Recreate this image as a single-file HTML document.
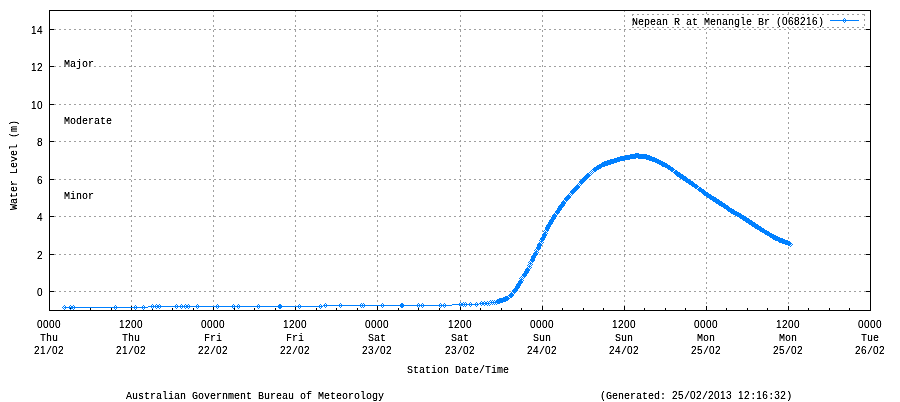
<!DOCTYPE html>
<html><head><meta charset="utf-8"><style>
html,body{margin:0;padding:0;background:#fff;}
body{width:900px;height:402px;position:relative;overflow:hidden;}
.tx{position:absolute;left:0;top:0;width:900px;height:402px;filter:url(#crisp);}
.t{position:absolute;font-family:"Liberation Mono",monospace;font-size:10px;line-height:12px;white-space:pre;color:#000;transform-origin:0 0;transform:scaleX(1.0000);}
.d{font-family:"Liberation Sans",sans-serif;font-size:10px;letter-spacing:0.4385px;line-height:0;}
</style></head><body>
<svg width="900" height="402" viewBox="0 0 900 402" shape-rendering="crispEdges" style="position:absolute;left:0;top:0"><path fill="#a0a0a0" d="M49 291h2v1h-2zM54 291h2v1h-2zM59 291h2v1h-2zM64 291h2v1h-2zM69 291h2v1h-2zM74 291h2v1h-2zM79 291h2v1h-2zM84 291h2v1h-2zM89 291h2v1h-2zM94 291h2v1h-2zM99 291h2v1h-2zM104 291h2v1h-2zM109 291h2v1h-2zM114 291h2v1h-2zM119 291h2v1h-2zM124 291h2v1h-2zM129 291h2v1h-2zM134 291h2v1h-2zM139 291h2v1h-2zM144 291h2v1h-2zM149 291h2v1h-2zM154 291h2v1h-2zM159 291h2v1h-2zM164 291h2v1h-2zM169 291h2v1h-2zM174 291h2v1h-2zM179 291h2v1h-2zM184 291h2v1h-2zM189 291h2v1h-2zM194 291h2v1h-2zM199 291h2v1h-2zM204 291h2v1h-2zM209 291h2v1h-2zM214 291h2v1h-2zM219 291h2v1h-2zM224 291h2v1h-2zM229 291h2v1h-2zM234 291h2v1h-2zM239 291h2v1h-2zM244 291h2v1h-2zM249 291h2v1h-2zM254 291h2v1h-2zM259 291h2v1h-2zM264 291h2v1h-2zM269 291h2v1h-2zM274 291h2v1h-2zM279 291h2v1h-2zM284 291h2v1h-2zM289 291h2v1h-2zM294 291h2v1h-2zM299 291h2v1h-2zM304 291h2v1h-2zM309 291h2v1h-2zM314 291h2v1h-2zM319 291h2v1h-2zM324 291h2v1h-2zM329 291h2v1h-2zM334 291h2v1h-2zM339 291h2v1h-2zM344 291h2v1h-2zM349 291h2v1h-2zM354 291h2v1h-2zM359 291h2v1h-2zM364 291h2v1h-2zM369 291h2v1h-2zM374 291h2v1h-2zM379 291h2v1h-2zM384 291h2v1h-2zM389 291h2v1h-2zM394 291h2v1h-2zM399 291h2v1h-2zM404 291h2v1h-2zM409 291h2v1h-2zM414 291h2v1h-2zM419 291h2v1h-2zM424 291h2v1h-2zM429 291h2v1h-2zM434 291h2v1h-2zM439 291h2v1h-2zM444 291h2v1h-2zM449 291h2v1h-2zM454 291h2v1h-2zM459 291h2v1h-2zM464 291h2v1h-2zM469 291h2v1h-2zM474 291h2v1h-2zM479 291h2v1h-2zM484 291h2v1h-2zM489 291h2v1h-2zM494 291h2v1h-2zM499 291h2v1h-2zM504 291h2v1h-2zM509 291h2v1h-2zM514 291h2v1h-2zM519 291h2v1h-2zM524 291h2v1h-2zM529 291h2v1h-2zM534 291h2v1h-2zM539 291h2v1h-2zM544 291h2v1h-2zM549 291h2v1h-2zM554 291h2v1h-2zM559 291h2v1h-2zM564 291h2v1h-2zM569 291h2v1h-2zM574 291h2v1h-2zM579 291h2v1h-2zM584 291h2v1h-2zM589 291h2v1h-2zM594 291h2v1h-2zM599 291h2v1h-2zM604 291h2v1h-2zM609 291h2v1h-2zM614 291h2v1h-2zM619 291h2v1h-2zM624 291h2v1h-2zM629 291h2v1h-2zM634 291h2v1h-2zM639 291h2v1h-2zM644 291h2v1h-2zM649 291h2v1h-2zM654 291h2v1h-2zM659 291h2v1h-2zM664 291h2v1h-2zM669 291h2v1h-2zM674 291h2v1h-2zM679 291h2v1h-2zM684 291h2v1h-2zM689 291h2v1h-2zM694 291h2v1h-2zM699 291h2v1h-2zM704 291h2v1h-2zM709 291h2v1h-2zM714 291h2v1h-2zM719 291h2v1h-2zM724 291h2v1h-2zM729 291h2v1h-2zM734 291h2v1h-2zM739 291h2v1h-2zM744 291h2v1h-2zM749 291h2v1h-2zM754 291h2v1h-2zM759 291h2v1h-2zM764 291h2v1h-2zM769 291h2v1h-2zM774 291h2v1h-2zM779 291h2v1h-2zM784 291h2v1h-2zM789 291h2v1h-2zM794 291h2v1h-2zM799 291h2v1h-2zM804 291h2v1h-2zM809 291h2v1h-2zM814 291h2v1h-2zM819 291h2v1h-2zM824 291h2v1h-2zM829 291h2v1h-2zM834 291h2v1h-2zM839 291h2v1h-2zM844 291h2v1h-2zM849 291h2v1h-2zM854 291h2v1h-2zM859 291h2v1h-2zM864 291h2v1h-2zM869 291h2v1h-2zM49 254h2v1h-2zM54 254h2v1h-2zM59 254h2v1h-2zM64 254h2v1h-2zM69 254h2v1h-2zM74 254h2v1h-2zM79 254h2v1h-2zM84 254h2v1h-2zM89 254h2v1h-2zM94 254h2v1h-2zM99 254h2v1h-2zM104 254h2v1h-2zM109 254h2v1h-2zM114 254h2v1h-2zM119 254h2v1h-2zM124 254h2v1h-2zM129 254h2v1h-2zM134 254h2v1h-2zM139 254h2v1h-2zM144 254h2v1h-2zM149 254h2v1h-2zM154 254h2v1h-2zM159 254h2v1h-2zM164 254h2v1h-2zM169 254h2v1h-2zM174 254h2v1h-2zM179 254h2v1h-2zM184 254h2v1h-2zM189 254h2v1h-2zM194 254h2v1h-2zM199 254h2v1h-2zM204 254h2v1h-2zM209 254h2v1h-2zM214 254h2v1h-2zM219 254h2v1h-2zM224 254h2v1h-2zM229 254h2v1h-2zM234 254h2v1h-2zM239 254h2v1h-2zM244 254h2v1h-2zM249 254h2v1h-2zM254 254h2v1h-2zM259 254h2v1h-2zM264 254h2v1h-2zM269 254h2v1h-2zM274 254h2v1h-2zM279 254h2v1h-2zM284 254h2v1h-2zM289 254h2v1h-2zM294 254h2v1h-2zM299 254h2v1h-2zM304 254h2v1h-2zM309 254h2v1h-2zM314 254h2v1h-2zM319 254h2v1h-2zM324 254h2v1h-2zM329 254h2v1h-2zM334 254h2v1h-2zM339 254h2v1h-2zM344 254h2v1h-2zM349 254h2v1h-2zM354 254h2v1h-2zM359 254h2v1h-2zM364 254h2v1h-2zM369 254h2v1h-2zM374 254h2v1h-2zM379 254h2v1h-2zM384 254h2v1h-2zM389 254h2v1h-2zM394 254h2v1h-2zM399 254h2v1h-2zM404 254h2v1h-2zM409 254h2v1h-2zM414 254h2v1h-2zM419 254h2v1h-2zM424 254h2v1h-2zM429 254h2v1h-2zM434 254h2v1h-2zM439 254h2v1h-2zM444 254h2v1h-2zM449 254h2v1h-2zM454 254h2v1h-2zM459 254h2v1h-2zM464 254h2v1h-2zM469 254h2v1h-2zM474 254h2v1h-2zM479 254h2v1h-2zM484 254h2v1h-2zM489 254h2v1h-2zM494 254h2v1h-2zM499 254h2v1h-2zM504 254h2v1h-2zM509 254h2v1h-2zM514 254h2v1h-2zM519 254h2v1h-2zM524 254h2v1h-2zM529 254h2v1h-2zM534 254h2v1h-2zM539 254h2v1h-2zM544 254h2v1h-2zM549 254h2v1h-2zM554 254h2v1h-2zM559 254h2v1h-2zM564 254h2v1h-2zM569 254h2v1h-2zM574 254h2v1h-2zM579 254h2v1h-2zM584 254h2v1h-2zM589 254h2v1h-2zM594 254h2v1h-2zM599 254h2v1h-2zM604 254h2v1h-2zM609 254h2v1h-2zM614 254h2v1h-2zM619 254h2v1h-2zM624 254h2v1h-2zM629 254h2v1h-2zM634 254h2v1h-2zM639 254h2v1h-2zM644 254h2v1h-2zM649 254h2v1h-2zM654 254h2v1h-2zM659 254h2v1h-2zM664 254h2v1h-2zM669 254h2v1h-2zM674 254h2v1h-2zM679 254h2v1h-2zM684 254h2v1h-2zM689 254h2v1h-2zM694 254h2v1h-2zM699 254h2v1h-2zM704 254h2v1h-2zM709 254h2v1h-2zM714 254h2v1h-2zM719 254h2v1h-2zM724 254h2v1h-2zM729 254h2v1h-2zM734 254h2v1h-2zM739 254h2v1h-2zM744 254h2v1h-2zM749 254h2v1h-2zM754 254h2v1h-2zM759 254h2v1h-2zM764 254h2v1h-2zM769 254h2v1h-2zM774 254h2v1h-2zM779 254h2v1h-2zM784 254h2v1h-2zM789 254h2v1h-2zM794 254h2v1h-2zM799 254h2v1h-2zM804 254h2v1h-2zM809 254h2v1h-2zM814 254h2v1h-2zM819 254h2v1h-2zM824 254h2v1h-2zM829 254h2v1h-2zM834 254h2v1h-2zM839 254h2v1h-2zM844 254h2v1h-2zM849 254h2v1h-2zM854 254h2v1h-2zM859 254h2v1h-2zM864 254h2v1h-2zM869 254h2v1h-2zM49 216h2v1h-2zM54 216h2v1h-2zM59 216h2v1h-2zM64 216h2v1h-2zM69 216h2v1h-2zM74 216h2v1h-2zM79 216h2v1h-2zM84 216h2v1h-2zM89 216h2v1h-2zM94 216h2v1h-2zM99 216h2v1h-2zM104 216h2v1h-2zM109 216h2v1h-2zM114 216h2v1h-2zM119 216h2v1h-2zM124 216h2v1h-2zM129 216h2v1h-2zM134 216h2v1h-2zM139 216h2v1h-2zM144 216h2v1h-2zM149 216h2v1h-2zM154 216h2v1h-2zM159 216h2v1h-2zM164 216h2v1h-2zM169 216h2v1h-2zM174 216h2v1h-2zM179 216h2v1h-2zM184 216h2v1h-2zM189 216h2v1h-2zM194 216h2v1h-2zM199 216h2v1h-2zM204 216h2v1h-2zM209 216h2v1h-2zM214 216h2v1h-2zM219 216h2v1h-2zM224 216h2v1h-2zM229 216h2v1h-2zM234 216h2v1h-2zM239 216h2v1h-2zM244 216h2v1h-2zM249 216h2v1h-2zM254 216h2v1h-2zM259 216h2v1h-2zM264 216h2v1h-2zM269 216h2v1h-2zM274 216h2v1h-2zM279 216h2v1h-2zM284 216h2v1h-2zM289 216h2v1h-2zM294 216h2v1h-2zM299 216h2v1h-2zM304 216h2v1h-2zM309 216h2v1h-2zM314 216h2v1h-2zM319 216h2v1h-2zM324 216h2v1h-2zM329 216h2v1h-2zM334 216h2v1h-2zM339 216h2v1h-2zM344 216h2v1h-2zM349 216h2v1h-2zM354 216h2v1h-2zM359 216h2v1h-2zM364 216h2v1h-2zM369 216h2v1h-2zM374 216h2v1h-2zM379 216h2v1h-2zM384 216h2v1h-2zM389 216h2v1h-2zM394 216h2v1h-2zM399 216h2v1h-2zM404 216h2v1h-2zM409 216h2v1h-2zM414 216h2v1h-2zM419 216h2v1h-2zM424 216h2v1h-2zM429 216h2v1h-2zM434 216h2v1h-2zM439 216h2v1h-2zM444 216h2v1h-2zM449 216h2v1h-2zM454 216h2v1h-2zM459 216h2v1h-2zM464 216h2v1h-2zM469 216h2v1h-2zM474 216h2v1h-2zM479 216h2v1h-2zM484 216h2v1h-2zM489 216h2v1h-2zM494 216h2v1h-2zM499 216h2v1h-2zM504 216h2v1h-2zM509 216h2v1h-2zM514 216h2v1h-2zM519 216h2v1h-2zM524 216h2v1h-2zM529 216h2v1h-2zM534 216h2v1h-2zM539 216h2v1h-2zM544 216h2v1h-2zM549 216h2v1h-2zM554 216h2v1h-2zM559 216h2v1h-2zM564 216h2v1h-2zM569 216h2v1h-2zM574 216h2v1h-2zM579 216h2v1h-2zM584 216h2v1h-2zM589 216h2v1h-2zM594 216h2v1h-2zM599 216h2v1h-2zM604 216h2v1h-2zM609 216h2v1h-2zM614 216h2v1h-2zM619 216h2v1h-2zM624 216h2v1h-2zM629 216h2v1h-2zM634 216h2v1h-2zM639 216h2v1h-2zM644 216h2v1h-2zM649 216h2v1h-2zM654 216h2v1h-2zM659 216h2v1h-2zM664 216h2v1h-2zM669 216h2v1h-2zM674 216h2v1h-2zM679 216h2v1h-2zM684 216h2v1h-2zM689 216h2v1h-2zM694 216h2v1h-2zM699 216h2v1h-2zM704 216h2v1h-2zM709 216h2v1h-2zM714 216h2v1h-2zM719 216h2v1h-2zM724 216h2v1h-2zM729 216h2v1h-2zM734 216h2v1h-2zM739 216h2v1h-2zM744 216h2v1h-2zM749 216h2v1h-2zM754 216h2v1h-2zM759 216h2v1h-2zM764 216h2v1h-2zM769 216h2v1h-2zM774 216h2v1h-2zM779 216h2v1h-2zM784 216h2v1h-2zM789 216h2v1h-2zM794 216h2v1h-2zM799 216h2v1h-2zM804 216h2v1h-2zM809 216h2v1h-2zM814 216h2v1h-2zM819 216h2v1h-2zM824 216h2v1h-2zM829 216h2v1h-2zM834 216h2v1h-2zM839 216h2v1h-2zM844 216h2v1h-2zM849 216h2v1h-2zM854 216h2v1h-2zM859 216h2v1h-2zM864 216h2v1h-2zM869 216h2v1h-2zM49 179h2v1h-2zM54 179h2v1h-2zM59 179h2v1h-2zM64 179h2v1h-2zM69 179h2v1h-2zM74 179h2v1h-2zM79 179h2v1h-2zM84 179h2v1h-2zM89 179h2v1h-2zM94 179h2v1h-2zM99 179h2v1h-2zM104 179h2v1h-2zM109 179h2v1h-2zM114 179h2v1h-2zM119 179h2v1h-2zM124 179h2v1h-2zM129 179h2v1h-2zM134 179h2v1h-2zM139 179h2v1h-2zM144 179h2v1h-2zM149 179h2v1h-2zM154 179h2v1h-2zM159 179h2v1h-2zM164 179h2v1h-2zM169 179h2v1h-2zM174 179h2v1h-2zM179 179h2v1h-2zM184 179h2v1h-2zM189 179h2v1h-2zM194 179h2v1h-2zM199 179h2v1h-2zM204 179h2v1h-2zM209 179h2v1h-2zM214 179h2v1h-2zM219 179h2v1h-2zM224 179h2v1h-2zM229 179h2v1h-2zM234 179h2v1h-2zM239 179h2v1h-2zM244 179h2v1h-2zM249 179h2v1h-2zM254 179h2v1h-2zM259 179h2v1h-2zM264 179h2v1h-2zM269 179h2v1h-2zM274 179h2v1h-2zM279 179h2v1h-2zM284 179h2v1h-2zM289 179h2v1h-2zM294 179h2v1h-2zM299 179h2v1h-2zM304 179h2v1h-2zM309 179h2v1h-2zM314 179h2v1h-2zM319 179h2v1h-2zM324 179h2v1h-2zM329 179h2v1h-2zM334 179h2v1h-2zM339 179h2v1h-2zM344 179h2v1h-2zM349 179h2v1h-2zM354 179h2v1h-2zM359 179h2v1h-2zM364 179h2v1h-2zM369 179h2v1h-2zM374 179h2v1h-2zM379 179h2v1h-2zM384 179h2v1h-2zM389 179h2v1h-2zM394 179h2v1h-2zM399 179h2v1h-2zM404 179h2v1h-2zM409 179h2v1h-2zM414 179h2v1h-2zM419 179h2v1h-2zM424 179h2v1h-2zM429 179h2v1h-2zM434 179h2v1h-2zM439 179h2v1h-2zM444 179h2v1h-2zM449 179h2v1h-2zM454 179h2v1h-2zM459 179h2v1h-2zM464 179h2v1h-2zM469 179h2v1h-2zM474 179h2v1h-2zM479 179h2v1h-2zM484 179h2v1h-2zM489 179h2v1h-2zM494 179h2v1h-2zM499 179h2v1h-2zM504 179h2v1h-2zM509 179h2v1h-2zM514 179h2v1h-2zM519 179h2v1h-2zM524 179h2v1h-2zM529 179h2v1h-2zM534 179h2v1h-2zM539 179h2v1h-2zM544 179h2v1h-2zM549 179h2v1h-2zM554 179h2v1h-2zM559 179h2v1h-2zM564 179h2v1h-2zM569 179h2v1h-2zM574 179h2v1h-2zM579 179h2v1h-2zM584 179h2v1h-2zM589 179h2v1h-2zM594 179h2v1h-2zM599 179h2v1h-2zM604 179h2v1h-2zM609 179h2v1h-2zM614 179h2v1h-2zM619 179h2v1h-2zM624 179h2v1h-2zM629 179h2v1h-2zM634 179h2v1h-2zM639 179h2v1h-2zM644 179h2v1h-2zM649 179h2v1h-2zM654 179h2v1h-2zM659 179h2v1h-2zM664 179h2v1h-2zM669 179h2v1h-2zM674 179h2v1h-2zM679 179h2v1h-2zM684 179h2v1h-2zM689 179h2v1h-2zM694 179h2v1h-2zM699 179h2v1h-2zM704 179h2v1h-2zM709 179h2v1h-2zM714 179h2v1h-2zM719 179h2v1h-2zM724 179h2v1h-2zM729 179h2v1h-2zM734 179h2v1h-2zM739 179h2v1h-2zM744 179h2v1h-2zM749 179h2v1h-2zM754 179h2v1h-2zM759 179h2v1h-2zM764 179h2v1h-2zM769 179h2v1h-2zM774 179h2v1h-2zM779 179h2v1h-2zM784 179h2v1h-2zM789 179h2v1h-2zM794 179h2v1h-2zM799 179h2v1h-2zM804 179h2v1h-2zM809 179h2v1h-2zM814 179h2v1h-2zM819 179h2v1h-2zM824 179h2v1h-2zM829 179h2v1h-2zM834 179h2v1h-2zM839 179h2v1h-2zM844 179h2v1h-2zM849 179h2v1h-2zM854 179h2v1h-2zM859 179h2v1h-2zM864 179h2v1h-2zM869 179h2v1h-2zM49 141h2v1h-2zM54 141h2v1h-2zM59 141h2v1h-2zM64 141h2v1h-2zM69 141h2v1h-2zM74 141h2v1h-2zM79 141h2v1h-2zM84 141h2v1h-2zM89 141h2v1h-2zM94 141h2v1h-2zM99 141h2v1h-2zM104 141h2v1h-2zM109 141h2v1h-2zM114 141h2v1h-2zM119 141h2v1h-2zM124 141h2v1h-2zM129 141h2v1h-2zM134 141h2v1h-2zM139 141h2v1h-2zM144 141h2v1h-2zM149 141h2v1h-2zM154 141h2v1h-2zM159 141h2v1h-2zM164 141h2v1h-2zM169 141h2v1h-2zM174 141h2v1h-2zM179 141h2v1h-2zM184 141h2v1h-2zM189 141h2v1h-2zM194 141h2v1h-2zM199 141h2v1h-2zM204 141h2v1h-2zM209 141h2v1h-2zM214 141h2v1h-2zM219 141h2v1h-2zM224 141h2v1h-2zM229 141h2v1h-2zM234 141h2v1h-2zM239 141h2v1h-2zM244 141h2v1h-2zM249 141h2v1h-2zM254 141h2v1h-2zM259 141h2v1h-2zM264 141h2v1h-2zM269 141h2v1h-2zM274 141h2v1h-2zM279 141h2v1h-2zM284 141h2v1h-2zM289 141h2v1h-2zM294 141h2v1h-2zM299 141h2v1h-2zM304 141h2v1h-2zM309 141h2v1h-2zM314 141h2v1h-2zM319 141h2v1h-2zM324 141h2v1h-2zM329 141h2v1h-2zM334 141h2v1h-2zM339 141h2v1h-2zM344 141h2v1h-2zM349 141h2v1h-2zM354 141h2v1h-2zM359 141h2v1h-2zM364 141h2v1h-2zM369 141h2v1h-2zM374 141h2v1h-2zM379 141h2v1h-2zM384 141h2v1h-2zM389 141h2v1h-2zM394 141h2v1h-2zM399 141h2v1h-2zM404 141h2v1h-2zM409 141h2v1h-2zM414 141h2v1h-2zM419 141h2v1h-2zM424 141h2v1h-2zM429 141h2v1h-2zM434 141h2v1h-2zM439 141h2v1h-2zM444 141h2v1h-2zM449 141h2v1h-2zM454 141h2v1h-2zM459 141h2v1h-2zM464 141h2v1h-2zM469 141h2v1h-2zM474 141h2v1h-2zM479 141h2v1h-2zM484 141h2v1h-2zM489 141h2v1h-2zM494 141h2v1h-2zM499 141h2v1h-2zM504 141h2v1h-2zM509 141h2v1h-2zM514 141h2v1h-2zM519 141h2v1h-2zM524 141h2v1h-2zM529 141h2v1h-2zM534 141h2v1h-2zM539 141h2v1h-2zM544 141h2v1h-2zM549 141h2v1h-2zM554 141h2v1h-2zM559 141h2v1h-2zM564 141h2v1h-2zM569 141h2v1h-2zM574 141h2v1h-2zM579 141h2v1h-2zM584 141h2v1h-2zM589 141h2v1h-2zM594 141h2v1h-2zM599 141h2v1h-2zM604 141h2v1h-2zM609 141h2v1h-2zM614 141h2v1h-2zM619 141h2v1h-2zM624 141h2v1h-2zM629 141h2v1h-2zM634 141h2v1h-2zM639 141h2v1h-2zM644 141h2v1h-2zM649 141h2v1h-2zM654 141h2v1h-2zM659 141h2v1h-2zM664 141h2v1h-2zM669 141h2v1h-2zM674 141h2v1h-2zM679 141h2v1h-2zM684 141h2v1h-2zM689 141h2v1h-2zM694 141h2v1h-2zM699 141h2v1h-2zM704 141h2v1h-2zM709 141h2v1h-2zM714 141h2v1h-2zM719 141h2v1h-2zM724 141h2v1h-2zM729 141h2v1h-2zM734 141h2v1h-2zM739 141h2v1h-2zM744 141h2v1h-2zM749 141h2v1h-2zM754 141h2v1h-2zM759 141h2v1h-2zM764 141h2v1h-2zM769 141h2v1h-2zM774 141h2v1h-2zM779 141h2v1h-2zM784 141h2v1h-2zM789 141h2v1h-2zM794 141h2v1h-2zM799 141h2v1h-2zM804 141h2v1h-2zM809 141h2v1h-2zM814 141h2v1h-2zM819 141h2v1h-2zM824 141h2v1h-2zM829 141h2v1h-2zM834 141h2v1h-2zM839 141h2v1h-2zM844 141h2v1h-2zM849 141h2v1h-2zM854 141h2v1h-2zM859 141h2v1h-2zM864 141h2v1h-2zM869 141h2v1h-2zM49 104h2v1h-2zM54 104h2v1h-2zM59 104h2v1h-2zM64 104h2v1h-2zM69 104h2v1h-2zM74 104h2v1h-2zM79 104h2v1h-2zM84 104h2v1h-2zM89 104h2v1h-2zM94 104h2v1h-2zM99 104h2v1h-2zM104 104h2v1h-2zM109 104h2v1h-2zM114 104h2v1h-2zM119 104h2v1h-2zM124 104h2v1h-2zM129 104h2v1h-2zM134 104h2v1h-2zM139 104h2v1h-2zM144 104h2v1h-2zM149 104h2v1h-2zM154 104h2v1h-2zM159 104h2v1h-2zM164 104h2v1h-2zM169 104h2v1h-2zM174 104h2v1h-2zM179 104h2v1h-2zM184 104h2v1h-2zM189 104h2v1h-2zM194 104h2v1h-2zM199 104h2v1h-2zM204 104h2v1h-2zM209 104h2v1h-2zM214 104h2v1h-2zM219 104h2v1h-2zM224 104h2v1h-2zM229 104h2v1h-2zM234 104h2v1h-2zM239 104h2v1h-2zM244 104h2v1h-2zM249 104h2v1h-2zM254 104h2v1h-2zM259 104h2v1h-2zM264 104h2v1h-2zM269 104h2v1h-2zM274 104h2v1h-2zM279 104h2v1h-2zM284 104h2v1h-2zM289 104h2v1h-2zM294 104h2v1h-2zM299 104h2v1h-2zM304 104h2v1h-2zM309 104h2v1h-2zM314 104h2v1h-2zM319 104h2v1h-2zM324 104h2v1h-2zM329 104h2v1h-2zM334 104h2v1h-2zM339 104h2v1h-2zM344 104h2v1h-2zM349 104h2v1h-2zM354 104h2v1h-2zM359 104h2v1h-2zM364 104h2v1h-2zM369 104h2v1h-2zM374 104h2v1h-2zM379 104h2v1h-2zM384 104h2v1h-2zM389 104h2v1h-2zM394 104h2v1h-2zM399 104h2v1h-2zM404 104h2v1h-2zM409 104h2v1h-2zM414 104h2v1h-2zM419 104h2v1h-2zM424 104h2v1h-2zM429 104h2v1h-2zM434 104h2v1h-2zM439 104h2v1h-2zM444 104h2v1h-2zM449 104h2v1h-2zM454 104h2v1h-2zM459 104h2v1h-2zM464 104h2v1h-2zM469 104h2v1h-2zM474 104h2v1h-2zM479 104h2v1h-2zM484 104h2v1h-2zM489 104h2v1h-2zM494 104h2v1h-2zM499 104h2v1h-2zM504 104h2v1h-2zM509 104h2v1h-2zM514 104h2v1h-2zM519 104h2v1h-2zM524 104h2v1h-2zM529 104h2v1h-2zM534 104h2v1h-2zM539 104h2v1h-2zM544 104h2v1h-2zM549 104h2v1h-2zM554 104h2v1h-2zM559 104h2v1h-2zM564 104h2v1h-2zM569 104h2v1h-2zM574 104h2v1h-2zM579 104h2v1h-2zM584 104h2v1h-2zM589 104h2v1h-2zM594 104h2v1h-2zM599 104h2v1h-2zM604 104h2v1h-2zM609 104h2v1h-2zM614 104h2v1h-2zM619 104h2v1h-2zM624 104h2v1h-2zM629 104h2v1h-2zM634 104h2v1h-2zM639 104h2v1h-2zM644 104h2v1h-2zM649 104h2v1h-2zM654 104h2v1h-2zM659 104h2v1h-2zM664 104h2v1h-2zM669 104h2v1h-2zM674 104h2v1h-2zM679 104h2v1h-2zM684 104h2v1h-2zM689 104h2v1h-2zM694 104h2v1h-2zM699 104h2v1h-2zM704 104h2v1h-2zM709 104h2v1h-2zM714 104h2v1h-2zM719 104h2v1h-2zM724 104h2v1h-2zM729 104h2v1h-2zM734 104h2v1h-2zM739 104h2v1h-2zM744 104h2v1h-2zM749 104h2v1h-2zM754 104h2v1h-2zM759 104h2v1h-2zM764 104h2v1h-2zM769 104h2v1h-2zM774 104h2v1h-2zM779 104h2v1h-2zM784 104h2v1h-2zM789 104h2v1h-2zM794 104h2v1h-2zM799 104h2v1h-2zM804 104h2v1h-2zM809 104h2v1h-2zM814 104h2v1h-2zM819 104h2v1h-2zM824 104h2v1h-2zM829 104h2v1h-2zM834 104h2v1h-2zM839 104h2v1h-2zM844 104h2v1h-2zM849 104h2v1h-2zM854 104h2v1h-2zM859 104h2v1h-2zM864 104h2v1h-2zM869 104h2v1h-2zM49 66h2v1h-2zM54 66h2v1h-2zM59 66h2v1h-2zM64 66h2v1h-2zM69 66h2v1h-2zM74 66h2v1h-2zM79 66h2v1h-2zM84 66h2v1h-2zM89 66h2v1h-2zM94 66h2v1h-2zM99 66h2v1h-2zM104 66h2v1h-2zM109 66h2v1h-2zM114 66h2v1h-2zM119 66h2v1h-2zM124 66h2v1h-2zM129 66h2v1h-2zM134 66h2v1h-2zM139 66h2v1h-2zM144 66h2v1h-2zM149 66h2v1h-2zM154 66h2v1h-2zM159 66h2v1h-2zM164 66h2v1h-2zM169 66h2v1h-2zM174 66h2v1h-2zM179 66h2v1h-2zM184 66h2v1h-2zM189 66h2v1h-2zM194 66h2v1h-2zM199 66h2v1h-2zM204 66h2v1h-2zM209 66h2v1h-2zM214 66h2v1h-2zM219 66h2v1h-2zM224 66h2v1h-2zM229 66h2v1h-2zM234 66h2v1h-2zM239 66h2v1h-2zM244 66h2v1h-2zM249 66h2v1h-2zM254 66h2v1h-2zM259 66h2v1h-2zM264 66h2v1h-2zM269 66h2v1h-2zM274 66h2v1h-2zM279 66h2v1h-2zM284 66h2v1h-2zM289 66h2v1h-2zM294 66h2v1h-2zM299 66h2v1h-2zM304 66h2v1h-2zM309 66h2v1h-2zM314 66h2v1h-2zM319 66h2v1h-2zM324 66h2v1h-2zM329 66h2v1h-2zM334 66h2v1h-2zM339 66h2v1h-2zM344 66h2v1h-2zM349 66h2v1h-2zM354 66h2v1h-2zM359 66h2v1h-2zM364 66h2v1h-2zM369 66h2v1h-2zM374 66h2v1h-2zM379 66h2v1h-2zM384 66h2v1h-2zM389 66h2v1h-2zM394 66h2v1h-2zM399 66h2v1h-2zM404 66h2v1h-2zM409 66h2v1h-2zM414 66h2v1h-2zM419 66h2v1h-2zM424 66h2v1h-2zM429 66h2v1h-2zM434 66h2v1h-2zM439 66h2v1h-2zM444 66h2v1h-2zM449 66h2v1h-2zM454 66h2v1h-2zM459 66h2v1h-2zM464 66h2v1h-2zM469 66h2v1h-2zM474 66h2v1h-2zM479 66h2v1h-2zM484 66h2v1h-2zM489 66h2v1h-2zM494 66h2v1h-2zM499 66h2v1h-2zM504 66h2v1h-2zM509 66h2v1h-2zM514 66h2v1h-2zM519 66h2v1h-2zM524 66h2v1h-2zM529 66h2v1h-2zM534 66h2v1h-2zM539 66h2v1h-2zM544 66h2v1h-2zM549 66h2v1h-2zM554 66h2v1h-2zM559 66h2v1h-2zM564 66h2v1h-2zM569 66h2v1h-2zM574 66h2v1h-2zM579 66h2v1h-2zM584 66h2v1h-2zM589 66h2v1h-2zM594 66h2v1h-2zM599 66h2v1h-2zM604 66h2v1h-2zM609 66h2v1h-2zM614 66h2v1h-2zM619 66h2v1h-2zM624 66h2v1h-2zM629 66h2v1h-2zM634 66h2v1h-2zM639 66h2v1h-2zM644 66h2v1h-2zM649 66h2v1h-2zM654 66h2v1h-2zM659 66h2v1h-2zM664 66h2v1h-2zM669 66h2v1h-2zM674 66h2v1h-2zM679 66h2v1h-2zM684 66h2v1h-2zM689 66h2v1h-2zM694 66h2v1h-2zM699 66h2v1h-2zM704 66h2v1h-2zM709 66h2v1h-2zM714 66h2v1h-2zM719 66h2v1h-2zM724 66h2v1h-2zM729 66h2v1h-2zM734 66h2v1h-2zM739 66h2v1h-2zM744 66h2v1h-2zM749 66h2v1h-2zM754 66h2v1h-2zM759 66h2v1h-2zM764 66h2v1h-2zM769 66h2v1h-2zM774 66h2v1h-2zM779 66h2v1h-2zM784 66h2v1h-2zM789 66h2v1h-2zM794 66h2v1h-2zM799 66h2v1h-2zM804 66h2v1h-2zM809 66h2v1h-2zM814 66h2v1h-2zM819 66h2v1h-2zM824 66h2v1h-2zM829 66h2v1h-2zM834 66h2v1h-2zM839 66h2v1h-2zM844 66h2v1h-2zM849 66h2v1h-2zM854 66h2v1h-2zM859 66h2v1h-2zM864 66h2v1h-2zM869 66h2v1h-2zM49 29h2v1h-2zM54 29h2v1h-2zM59 29h2v1h-2zM64 29h2v1h-2zM69 29h2v1h-2zM74 29h2v1h-2zM79 29h2v1h-2zM84 29h2v1h-2zM89 29h2v1h-2zM94 29h2v1h-2zM99 29h2v1h-2zM104 29h2v1h-2zM109 29h2v1h-2zM114 29h2v1h-2zM119 29h2v1h-2zM124 29h2v1h-2zM129 29h2v1h-2zM134 29h2v1h-2zM139 29h2v1h-2zM144 29h2v1h-2zM149 29h2v1h-2zM154 29h2v1h-2zM159 29h2v1h-2zM164 29h2v1h-2zM169 29h2v1h-2zM174 29h2v1h-2zM179 29h2v1h-2zM184 29h2v1h-2zM189 29h2v1h-2zM194 29h2v1h-2zM199 29h2v1h-2zM204 29h2v1h-2zM209 29h2v1h-2zM214 29h2v1h-2zM219 29h2v1h-2zM224 29h2v1h-2zM229 29h2v1h-2zM234 29h2v1h-2zM239 29h2v1h-2zM244 29h2v1h-2zM249 29h2v1h-2zM254 29h2v1h-2zM259 29h2v1h-2zM264 29h2v1h-2zM269 29h2v1h-2zM274 29h2v1h-2zM279 29h2v1h-2zM284 29h2v1h-2zM289 29h2v1h-2zM294 29h2v1h-2zM299 29h2v1h-2zM304 29h2v1h-2zM309 29h2v1h-2zM314 29h2v1h-2zM319 29h2v1h-2zM324 29h2v1h-2zM329 29h2v1h-2zM334 29h2v1h-2zM339 29h2v1h-2zM344 29h2v1h-2zM349 29h2v1h-2zM354 29h2v1h-2zM359 29h2v1h-2zM364 29h2v1h-2zM369 29h2v1h-2zM374 29h2v1h-2zM379 29h2v1h-2zM384 29h2v1h-2zM389 29h2v1h-2zM394 29h2v1h-2zM399 29h2v1h-2zM404 29h2v1h-2zM409 29h2v1h-2zM414 29h2v1h-2zM419 29h2v1h-2zM424 29h2v1h-2zM429 29h2v1h-2zM434 29h2v1h-2zM439 29h2v1h-2zM444 29h2v1h-2zM449 29h2v1h-2zM454 29h2v1h-2zM459 29h2v1h-2zM464 29h2v1h-2zM469 29h2v1h-2zM474 29h2v1h-2zM479 29h2v1h-2zM484 29h2v1h-2zM489 29h2v1h-2zM494 29h2v1h-2zM499 29h2v1h-2zM504 29h2v1h-2zM509 29h2v1h-2zM514 29h2v1h-2zM519 29h2v1h-2zM524 29h2v1h-2zM529 29h2v1h-2zM534 29h2v1h-2zM539 29h2v1h-2zM544 29h2v1h-2zM549 29h2v1h-2zM554 29h2v1h-2zM559 29h2v1h-2zM564 29h2v1h-2zM569 29h2v1h-2zM574 29h2v1h-2zM579 29h2v1h-2zM584 29h2v1h-2zM589 29h2v1h-2zM594 29h2v1h-2zM599 29h2v1h-2zM604 29h2v1h-2zM609 29h2v1h-2zM614 29h2v1h-2zM619 29h2v1h-2zM624 29h2v1h-2zM629 29h2v1h-2zM634 29h2v1h-2zM639 29h2v1h-2zM644 29h2v1h-2zM649 29h2v1h-2zM654 29h2v1h-2zM659 29h2v1h-2zM664 29h2v1h-2zM669 29h2v1h-2zM674 29h2v1h-2zM679 29h2v1h-2zM684 29h2v1h-2zM689 29h2v1h-2zM694 29h2v1h-2zM699 29h2v1h-2zM704 29h2v1h-2zM709 29h2v1h-2zM714 29h2v1h-2zM719 29h2v1h-2zM724 29h2v1h-2zM729 29h2v1h-2zM734 29h2v1h-2zM739 29h2v1h-2zM744 29h2v1h-2zM749 29h2v1h-2zM754 29h2v1h-2zM759 29h2v1h-2zM764 29h2v1h-2zM769 29h2v1h-2zM774 29h2v1h-2zM779 29h2v1h-2zM784 29h2v1h-2zM789 29h2v1h-2zM794 29h2v1h-2zM799 29h2v1h-2zM804 29h2v1h-2zM809 29h2v1h-2zM814 29h2v1h-2zM819 29h2v1h-2zM824 29h2v1h-2zM829 29h2v1h-2zM834 29h2v1h-2zM839 29h2v1h-2zM844 29h2v1h-2zM849 29h2v1h-2zM854 29h2v1h-2zM859 29h2v1h-2zM864 29h2v1h-2zM869 29h2v1h-2zM131 10h1v2h-1zM131 15h1v2h-1zM131 20h1v2h-1zM131 25h1v2h-1zM131 30h1v2h-1zM131 35h1v2h-1zM131 40h1v2h-1zM131 45h1v2h-1zM131 50h1v2h-1zM131 55h1v2h-1zM131 60h1v2h-1zM131 65h1v2h-1zM131 70h1v2h-1zM131 75h1v2h-1zM131 80h1v2h-1zM131 85h1v2h-1zM131 90h1v2h-1zM131 95h1v2h-1zM131 100h1v2h-1zM131 105h1v2h-1zM131 110h1v2h-1zM131 115h1v2h-1zM131 120h1v2h-1zM131 125h1v2h-1zM131 130h1v2h-1zM131 135h1v2h-1zM131 140h1v2h-1zM131 145h1v2h-1zM131 150h1v2h-1zM131 155h1v2h-1zM131 160h1v2h-1zM131 165h1v2h-1zM131 170h1v2h-1zM131 175h1v2h-1zM131 180h1v2h-1zM131 185h1v2h-1zM131 190h1v2h-1zM131 195h1v2h-1zM131 200h1v2h-1zM131 205h1v2h-1zM131 210h1v2h-1zM131 215h1v2h-1zM131 220h1v2h-1zM131 225h1v2h-1zM131 230h1v2h-1zM131 235h1v2h-1zM131 240h1v2h-1zM131 245h1v2h-1zM131 250h1v2h-1zM131 255h1v2h-1zM131 260h1v2h-1zM131 265h1v2h-1zM131 270h1v2h-1zM131 275h1v2h-1zM131 280h1v2h-1zM131 285h1v2h-1zM131 290h1v2h-1zM131 295h1v2h-1zM131 300h1v2h-1zM131 305h1v2h-1zM131 310h1v1h-1zM213 10h1v2h-1zM213 15h1v2h-1zM213 20h1v2h-1zM213 25h1v2h-1zM213 30h1v2h-1zM213 35h1v2h-1zM213 40h1v2h-1zM213 45h1v2h-1zM213 50h1v2h-1zM213 55h1v2h-1zM213 60h1v2h-1zM213 65h1v2h-1zM213 70h1v2h-1zM213 75h1v2h-1zM213 80h1v2h-1zM213 85h1v2h-1zM213 90h1v2h-1zM213 95h1v2h-1zM213 100h1v2h-1zM213 105h1v2h-1zM213 110h1v2h-1zM213 115h1v2h-1zM213 120h1v2h-1zM213 125h1v2h-1zM213 130h1v2h-1zM213 135h1v2h-1zM213 140h1v2h-1zM213 145h1v2h-1zM213 150h1v2h-1zM213 155h1v2h-1zM213 160h1v2h-1zM213 165h1v2h-1zM213 170h1v2h-1zM213 175h1v2h-1zM213 180h1v2h-1zM213 185h1v2h-1zM213 190h1v2h-1zM213 195h1v2h-1zM213 200h1v2h-1zM213 205h1v2h-1zM213 210h1v2h-1zM213 215h1v2h-1zM213 220h1v2h-1zM213 225h1v2h-1zM213 230h1v2h-1zM213 235h1v2h-1zM213 240h1v2h-1zM213 245h1v2h-1zM213 250h1v2h-1zM213 255h1v2h-1zM213 260h1v2h-1zM213 265h1v2h-1zM213 270h1v2h-1zM213 275h1v2h-1zM213 280h1v2h-1zM213 285h1v2h-1zM213 290h1v2h-1zM213 295h1v2h-1zM213 300h1v2h-1zM213 305h1v2h-1zM213 310h1v1h-1zM295 10h1v2h-1zM295 15h1v2h-1zM295 20h1v2h-1zM295 25h1v2h-1zM295 30h1v2h-1zM295 35h1v2h-1zM295 40h1v2h-1zM295 45h1v2h-1zM295 50h1v2h-1zM295 55h1v2h-1zM295 60h1v2h-1zM295 65h1v2h-1zM295 70h1v2h-1zM295 75h1v2h-1zM295 80h1v2h-1zM295 85h1v2h-1zM295 90h1v2h-1zM295 95h1v2h-1zM295 100h1v2h-1zM295 105h1v2h-1zM295 110h1v2h-1zM295 115h1v2h-1zM295 120h1v2h-1zM295 125h1v2h-1zM295 130h1v2h-1zM295 135h1v2h-1zM295 140h1v2h-1zM295 145h1v2h-1zM295 150h1v2h-1zM295 155h1v2h-1zM295 160h1v2h-1zM295 165h1v2h-1zM295 170h1v2h-1zM295 175h1v2h-1zM295 180h1v2h-1zM295 185h1v2h-1zM295 190h1v2h-1zM295 195h1v2h-1zM295 200h1v2h-1zM295 205h1v2h-1zM295 210h1v2h-1zM295 215h1v2h-1zM295 220h1v2h-1zM295 225h1v2h-1zM295 230h1v2h-1zM295 235h1v2h-1zM295 240h1v2h-1zM295 245h1v2h-1zM295 250h1v2h-1zM295 255h1v2h-1zM295 260h1v2h-1zM295 265h1v2h-1zM295 270h1v2h-1zM295 275h1v2h-1zM295 280h1v2h-1zM295 285h1v2h-1zM295 290h1v2h-1zM295 295h1v2h-1zM295 300h1v2h-1zM295 305h1v2h-1zM295 310h1v1h-1zM377 10h1v2h-1zM377 15h1v2h-1zM377 20h1v2h-1zM377 25h1v2h-1zM377 30h1v2h-1zM377 35h1v2h-1zM377 40h1v2h-1zM377 45h1v2h-1zM377 50h1v2h-1zM377 55h1v2h-1zM377 60h1v2h-1zM377 65h1v2h-1zM377 70h1v2h-1zM377 75h1v2h-1zM377 80h1v2h-1zM377 85h1v2h-1zM377 90h1v2h-1zM377 95h1v2h-1zM377 100h1v2h-1zM377 105h1v2h-1zM377 110h1v2h-1zM377 115h1v2h-1zM377 120h1v2h-1zM377 125h1v2h-1zM377 130h1v2h-1zM377 135h1v2h-1zM377 140h1v2h-1zM377 145h1v2h-1zM377 150h1v2h-1zM377 155h1v2h-1zM377 160h1v2h-1zM377 165h1v2h-1zM377 170h1v2h-1zM377 175h1v2h-1zM377 180h1v2h-1zM377 185h1v2h-1zM377 190h1v2h-1zM377 195h1v2h-1zM377 200h1v2h-1zM377 205h1v2h-1zM377 210h1v2h-1zM377 215h1v2h-1zM377 220h1v2h-1zM377 225h1v2h-1zM377 230h1v2h-1zM377 235h1v2h-1zM377 240h1v2h-1zM377 245h1v2h-1zM377 250h1v2h-1zM377 255h1v2h-1zM377 260h1v2h-1zM377 265h1v2h-1zM377 270h1v2h-1zM377 275h1v2h-1zM377 280h1v2h-1zM377 285h1v2h-1zM377 290h1v2h-1zM377 295h1v2h-1zM377 300h1v2h-1zM377 305h1v2h-1zM377 310h1v1h-1zM460 10h1v2h-1zM460 15h1v2h-1zM460 20h1v2h-1zM460 25h1v2h-1zM460 30h1v2h-1zM460 35h1v2h-1zM460 40h1v2h-1zM460 45h1v2h-1zM460 50h1v2h-1zM460 55h1v2h-1zM460 60h1v2h-1zM460 65h1v2h-1zM460 70h1v2h-1zM460 75h1v2h-1zM460 80h1v2h-1zM460 85h1v2h-1zM460 90h1v2h-1zM460 95h1v2h-1zM460 100h1v2h-1zM460 105h1v2h-1zM460 110h1v2h-1zM460 115h1v2h-1zM460 120h1v2h-1zM460 125h1v2h-1zM460 130h1v2h-1zM460 135h1v2h-1zM460 140h1v2h-1zM460 145h1v2h-1zM460 150h1v2h-1zM460 155h1v2h-1zM460 160h1v2h-1zM460 165h1v2h-1zM460 170h1v2h-1zM460 175h1v2h-1zM460 180h1v2h-1zM460 185h1v2h-1zM460 190h1v2h-1zM460 195h1v2h-1zM460 200h1v2h-1zM460 205h1v2h-1zM460 210h1v2h-1zM460 215h1v2h-1zM460 220h1v2h-1zM460 225h1v2h-1zM460 230h1v2h-1zM460 235h1v2h-1zM460 240h1v2h-1zM460 245h1v2h-1zM460 250h1v2h-1zM460 255h1v2h-1zM460 260h1v2h-1zM460 265h1v2h-1zM460 270h1v2h-1zM460 275h1v2h-1zM460 280h1v2h-1zM460 285h1v2h-1zM460 290h1v2h-1zM460 295h1v2h-1zM460 300h1v2h-1zM460 305h1v2h-1zM460 310h1v1h-1zM542 10h1v2h-1zM542 15h1v2h-1zM542 20h1v2h-1zM542 25h1v2h-1zM542 30h1v2h-1zM542 35h1v2h-1zM542 40h1v2h-1zM542 45h1v2h-1zM542 50h1v2h-1zM542 55h1v2h-1zM542 60h1v2h-1zM542 65h1v2h-1zM542 70h1v2h-1zM542 75h1v2h-1zM542 80h1v2h-1zM542 85h1v2h-1zM542 90h1v2h-1zM542 95h1v2h-1zM542 100h1v2h-1zM542 105h1v2h-1zM542 110h1v2h-1zM542 115h1v2h-1zM542 120h1v2h-1zM542 125h1v2h-1zM542 130h1v2h-1zM542 135h1v2h-1zM542 140h1v2h-1zM542 145h1v2h-1zM542 150h1v2h-1zM542 155h1v2h-1zM542 160h1v2h-1zM542 165h1v2h-1zM542 170h1v2h-1zM542 175h1v2h-1zM542 180h1v2h-1zM542 185h1v2h-1zM542 190h1v2h-1zM542 195h1v2h-1zM542 200h1v2h-1zM542 205h1v2h-1zM542 210h1v2h-1zM542 215h1v2h-1zM542 220h1v2h-1zM542 225h1v2h-1zM542 230h1v2h-1zM542 235h1v2h-1zM542 240h1v2h-1zM542 245h1v2h-1zM542 250h1v2h-1zM542 255h1v2h-1zM542 260h1v2h-1zM542 265h1v2h-1zM542 270h1v2h-1zM542 275h1v2h-1zM542 280h1v2h-1zM542 285h1v2h-1zM542 290h1v2h-1zM542 295h1v2h-1zM542 300h1v2h-1zM542 305h1v2h-1zM542 310h1v1h-1zM624 10h1v2h-1zM624 15h1v2h-1zM624 20h1v2h-1zM624 25h1v2h-1zM624 30h1v2h-1zM624 35h1v2h-1zM624 40h1v2h-1zM624 45h1v2h-1zM624 50h1v2h-1zM624 55h1v2h-1zM624 60h1v2h-1zM624 65h1v2h-1zM624 70h1v2h-1zM624 75h1v2h-1zM624 80h1v2h-1zM624 85h1v2h-1zM624 90h1v2h-1zM624 95h1v2h-1zM624 100h1v2h-1zM624 105h1v2h-1zM624 110h1v2h-1zM624 115h1v2h-1zM624 120h1v2h-1zM624 125h1v2h-1zM624 130h1v2h-1zM624 135h1v2h-1zM624 140h1v2h-1zM624 145h1v2h-1zM624 150h1v2h-1zM624 155h1v2h-1zM624 160h1v2h-1zM624 165h1v2h-1zM624 170h1v2h-1zM624 175h1v2h-1zM624 180h1v2h-1zM624 185h1v2h-1zM624 190h1v2h-1zM624 195h1v2h-1zM624 200h1v2h-1zM624 205h1v2h-1zM624 210h1v2h-1zM624 215h1v2h-1zM624 220h1v2h-1zM624 225h1v2h-1zM624 230h1v2h-1zM624 235h1v2h-1zM624 240h1v2h-1zM624 245h1v2h-1zM624 250h1v2h-1zM624 255h1v2h-1zM624 260h1v2h-1zM624 265h1v2h-1zM624 270h1v2h-1zM624 275h1v2h-1zM624 280h1v2h-1zM624 285h1v2h-1zM624 290h1v2h-1zM624 295h1v2h-1zM624 300h1v2h-1zM624 305h1v2h-1zM624 310h1v1h-1zM706 12h1v2h-1zM706 17h1v2h-1zM706 22h1v2h-1zM706 27h1v2h-1zM706 32h1v2h-1zM706 37h1v2h-1zM706 42h1v2h-1zM706 47h1v2h-1zM706 52h1v2h-1zM706 57h1v2h-1zM706 62h1v2h-1zM706 67h1v2h-1zM706 72h1v2h-1zM706 77h1v2h-1zM706 82h1v2h-1zM706 87h1v2h-1zM706 92h1v2h-1zM706 97h1v2h-1zM706 102h1v2h-1zM706 107h1v2h-1zM706 112h1v2h-1zM706 117h1v2h-1zM706 122h1v2h-1zM706 127h1v2h-1zM706 132h1v2h-1zM706 137h1v2h-1zM706 142h1v2h-1zM706 147h1v2h-1zM706 152h1v2h-1zM706 157h1v2h-1zM706 162h1v2h-1zM706 167h1v2h-1zM706 172h1v2h-1zM706 177h1v2h-1zM706 182h1v2h-1zM706 187h1v2h-1zM706 192h1v2h-1zM706 197h1v2h-1zM706 202h1v2h-1zM706 207h1v2h-1zM706 212h1v2h-1zM706 217h1v2h-1zM706 222h1v2h-1zM706 227h1v2h-1zM706 232h1v2h-1zM706 237h1v2h-1zM706 242h1v2h-1zM706 247h1v2h-1zM706 252h1v2h-1zM706 257h1v2h-1zM706 262h1v2h-1zM706 267h1v2h-1zM706 272h1v2h-1zM706 277h1v2h-1zM706 282h1v2h-1zM706 287h1v2h-1zM706 292h1v2h-1zM706 297h1v2h-1zM706 302h1v2h-1zM706 307h1v2h-1zM788 12h1v2h-1zM788 17h1v2h-1zM788 22h1v2h-1zM788 27h1v2h-1zM788 32h1v2h-1zM788 37h1v2h-1zM788 42h1v2h-1zM788 47h1v2h-1zM788 52h1v2h-1zM788 57h1v2h-1zM788 62h1v2h-1zM788 67h1v2h-1zM788 72h1v2h-1zM788 77h1v2h-1zM788 82h1v2h-1zM788 87h1v2h-1zM788 92h1v2h-1zM788 97h1v2h-1zM788 102h1v2h-1zM788 107h1v2h-1zM788 112h1v2h-1zM788 117h1v2h-1zM788 122h1v2h-1zM788 127h1v2h-1zM788 132h1v2h-1zM788 137h1v2h-1zM788 142h1v2h-1zM788 147h1v2h-1zM788 152h1v2h-1zM788 157h1v2h-1zM788 162h1v2h-1zM788 167h1v2h-1zM788 172h1v2h-1zM788 177h1v2h-1zM788 182h1v2h-1zM788 187h1v2h-1zM788 192h1v2h-1zM788 197h1v2h-1zM788 202h1v2h-1zM788 207h1v2h-1zM788 212h1v2h-1zM788 217h1v2h-1zM788 222h1v2h-1zM788 227h1v2h-1zM788 232h1v2h-1zM788 237h1v2h-1zM788 242h1v2h-1zM788 247h1v2h-1zM788 252h1v2h-1zM788 257h1v2h-1zM788 262h1v2h-1zM788 267h1v2h-1zM788 272h1v2h-1zM788 277h1v2h-1zM788 282h1v2h-1zM788 287h1v2h-1zM788 292h1v2h-1zM788 297h1v2h-1zM788 302h1v2h-1zM788 307h1v2h-1z"/><rect x="65" y="66" width="29" height="1" fill="#fff"/><path fill="#000" d="M49 10h822v1h-822zM49 310h822v1h-822zM49 10h1v301h-1zM870 10h1v301h-1zM49 291h5v1h-5zM866 291h5v1h-5zM49 254h5v1h-5zM866 254h5v1h-5zM49 216h5v1h-5zM866 216h5v1h-5zM49 179h5v1h-5zM866 179h5v1h-5zM49 141h5v1h-5zM866 141h5v1h-5zM49 104h5v1h-5zM866 104h5v1h-5zM49 66h5v1h-5zM866 66h5v1h-5zM49 29h5v1h-5zM866 29h5v1h-5zM49 306h1v5h-1zM131 306h1v5h-1zM213 306h1v5h-1zM295 306h1v5h-1zM377 306h1v5h-1zM460 306h1v5h-1zM542 306h1v5h-1zM624 306h1v5h-1zM706 306h1v5h-1zM788 306h1v5h-1zM870 306h1v5h-1zM70 308h1v3h-1zM90 308h1v3h-1zM111 308h1v3h-1zM152 308h1v3h-1zM172 308h1v3h-1zM193 308h1v3h-1zM234 308h1v3h-1zM254 308h1v3h-1zM275 308h1v3h-1zM316 308h1v3h-1zM336 308h1v3h-1zM357 308h1v3h-1zM398 308h1v3h-1zM418 308h1v3h-1zM439 308h1v3h-1zM480 308h1v3h-1zM501 308h1v3h-1zM521 308h1v3h-1zM562 308h1v3h-1zM583 308h1v3h-1zM603 308h1v3h-1zM644 308h1v3h-1zM665 308h1v3h-1zM685 308h1v3h-1zM726 308h1v3h-1zM747 308h1v3h-1zM767 308h1v3h-1zM808 308h1v3h-1zM829 308h1v3h-1zM849 308h1v3h-1z"/><path fill="#0080ff" d="M635 153h4v1h-4zM630 154h17v1h-17zM625 155h25v1h-25zM620 156h32v1h-32zM617 157h38v1h-38zM614 158h22v1h-22zM638 158h19v1h-19zM610 159h20v1h-20zM646 159h13v1h-13zM607 160h18v1h-18zM649 160h12v1h-12zM604 161h16v1h-16zM652 161h11v1h-11zM602 162h15v1h-15zM655 162h10v1h-10zM601 163h13v1h-13zM657 163h10v1h-10zM599 164h12v1h-12zM659 164h9v1h-9zM597 165h11v1h-11zM661 165h9v1h-9zM596 166h9v1h-9zM662 166h9v1h-9zM594 167h8v1h-8zM665 167h8v1h-8zM593 168h8v1h-8zM667 168h7v1h-7zM592 169h7v1h-7zM668 169h7v1h-7zM591 170h1v1h-1zM593 170h4v1h-4zM670 170h4v1h-4zM675 170h2v1h-2zM590 171h1v1h-1zM592 171h1v1h-1zM594 171h2v1h-2zM671 171h2v1h-2zM674 171h4v1h-4zM589 172h1v1h-1zM591 172h1v1h-1zM593 172h1v1h-1zM673 172h7v1h-7zM587 173h2v1h-2zM590 173h1v1h-1zM592 173h1v1h-1zM674 173h7v1h-7zM586 174h4v1h-4zM591 174h1v1h-1zM675 174h8v1h-8zM585 175h6v1h-6zM676 175h8v1h-8zM584 176h6v1h-6zM677 176h9v1h-9zM583 177h6v1h-6zM679 177h8v1h-8zM582 178h6v1h-6zM680 178h8v1h-8zM581 179h6v1h-6zM682 179h8v1h-8zM580 180h6v1h-6zM683 180h8v1h-8zM579 181h6v1h-6zM685 181h8v1h-8zM579 182h5v1h-5zM686 182h8v1h-8zM578 183h1v1h-1zM580 183h3v1h-3zM688 183h7v1h-7zM577 184h1v1h-1zM579 184h1v1h-1zM581 184h1v1h-1zM689 184h8v1h-8zM576 185h3v1h-3zM580 185h1v1h-1zM691 185h7v1h-7zM575 186h5v1h-5zM692 186h7v1h-7zM574 187h6v1h-6zM694 187h4v1h-4zM699 187h2v1h-2zM573 188h6v1h-6zM695 188h2v1h-2zM698 188h4v1h-4zM572 189h6v1h-6zM697 189h7v1h-7zM571 190h6v1h-6zM698 190h7v1h-7zM570 191h6v1h-6zM699 191h7v1h-7zM570 192h5v1h-5zM701 192h7v1h-7zM569 193h1v1h-1zM571 193h3v1h-3zM702 193h7v1h-7zM568 194h1v1h-1zM570 194h1v1h-1zM572 194h1v1h-1zM703 194h8v1h-8zM567 195h3v1h-3zM571 195h1v1h-1zM704 195h8v1h-8zM566 196h5v1h-5zM706 196h8v1h-8zM565 197h6v1h-6zM707 197h9v1h-9zM564 198h6v1h-6zM709 198h8v1h-8zM564 199h5v1h-5zM710 199h9v1h-9zM563 200h1v1h-1zM565 200h3v1h-3zM712 200h8v1h-8zM562 201h3v1h-3zM566 201h1v1h-1zM713 201h9v1h-9zM561 202h5v1h-5zM715 202h8v1h-8zM561 203h5v1h-5zM716 203h9v1h-9zM560 204h5v1h-5zM718 204h8v1h-8zM559 205h6v1h-6zM719 205h9v1h-9zM558 206h6v1h-6zM721 206h8v1h-8zM558 207h5v1h-5zM723 207h7v1h-7zM557 208h5v1h-5zM724 208h8v1h-8zM557 209h5v1h-5zM726 209h8v1h-8zM556 210h5v1h-5zM727 210h8v1h-8zM555 211h5v1h-5zM728 211h9v1h-9zM555 212h5v1h-5zM730 212h9v1h-9zM554 213h1v1h-1zM556 213h3v1h-3zM731 213h10v1h-10zM553 214h3v1h-3zM557 214h1v1h-1zM733 214h9v1h-9zM552 215h5v1h-5zM735 215h9v1h-9zM552 216h5v1h-5zM737 216h9v1h-9zM551 217h5v1h-5zM739 217h8v1h-8zM551 218h5v1h-5zM740 218h9v1h-9zM550 219h5v1h-5zM742 219h8v1h-8zM549 220h5v1h-5zM743 220h9v1h-9zM549 221h5v1h-5zM745 221h8v1h-8zM548 222h5v1h-5zM746 222h9v1h-9zM548 223h5v1h-5zM748 223h8v1h-8zM547 224h5v1h-5zM749 224h9v1h-9zM546 225h5v1h-5zM751 225h8v1h-8zM546 226h5v1h-5zM752 226h9v1h-9zM545 227h5v1h-5zM754 227h8v1h-8zM545 228h5v1h-5zM755 228h9v1h-9zM545 229h4v1h-4zM757 229h8v1h-8zM544 230h1v1h-1zM546 230h3v1h-3zM759 230h8v1h-8zM543 231h1v1h-1zM545 231h1v1h-1zM547 231h1v1h-1zM760 231h9v1h-9zM544 232h3v1h-3zM762 232h8v1h-8zM543 233h3v1h-3zM547 233h1v1h-1zM764 233h8v1h-8zM542 234h5v1h-5zM765 234h9v1h-9zM542 235h5v1h-5zM767 235h9v1h-9zM542 236h4v1h-4zM769 236h9v1h-9zM541 237h5v1h-5zM770 237h10v1h-10zM540 238h5v1h-5zM772 238h11v1h-11zM540 239h5v1h-5zM773 239h12v1h-12zM539 240h1v1h-1zM541 240h3v1h-3zM775 240h13v1h-13zM540 241h3v1h-3zM778 241h12v1h-12zM539 242h1v1h-1zM541 242h1v1h-1zM543 242h1v1h-1zM779 242h12v1h-12zM538 243h3v1h-3zM542 243h1v1h-1zM782 243h10v1h-10zM537 244h5v1h-5zM785 244h6v1h-6zM792 244h1v1h-1zM537 245h5v1h-5zM788 245h2v1h-2zM791 245h1v1h-1zM537 246h4v1h-4zM790 246h1v1h-1zM536 247h5v1h-5zM536 248h5v1h-5zM535 249h1v1h-1zM537 249h3v1h-3zM534 250h1v1h-1zM536 250h1v1h-1zM538 250h1v1h-1zM535 251h3v1h-3zM534 252h3v1h-3zM538 252h1v1h-1zM533 253h5v1h-5zM533 254h5v1h-5zM532 255h5v1h-5zM531 256h5v1h-5zM531 257h5v1h-5zM531 258h4v1h-4zM530 259h5v1h-5zM530 260h5v1h-5zM529 261h1v1h-1zM531 261h3v1h-3zM528 262h1v1h-1zM530 262h1v1h-1zM532 262h1v1h-1zM529 263h3v1h-3zM528 264h1v1h-1zM530 264h1v1h-1zM532 264h1v1h-1zM527 265h1v1h-1zM529 265h1v1h-1zM531 265h1v1h-1zM528 266h3v1h-3zM527 267h1v1h-1zM529 267h1v1h-1zM531 267h1v1h-1zM526 268h3v1h-3zM530 268h1v1h-1zM525 269h5v1h-5zM525 270h5v1h-5zM524 271h5v1h-5zM524 272h5v1h-5zM523 273h5v1h-5zM522 274h5v1h-5zM522 275h5v1h-5zM521 276h1v1h-1zM523 276h3v1h-3zM520 277h1v1h-1zM522 277h1v1h-1zM524 277h1v1h-1zM519 278h1v1h-1zM521 278h1v1h-1zM523 278h1v1h-1zM520 279h3v1h-3zM519 280h3v1h-3zM523 280h1v1h-1zM518 281h5v1h-5zM518 282h5v1h-5zM517 283h5v1h-5zM516 284h5v1h-5zM516 285h5v1h-5zM515 286h5v1h-5zM515 287h5v1h-5zM514 288h5v1h-5zM513 289h5v1h-5zM512 290h6v1h-6zM512 291h5v1h-5zM511 292h1v1h-1zM513 292h3v1h-3zM510 293h3v1h-3zM514 293h1v1h-1zM509 294h5v1h-5zM508 295h6v1h-6zM505 296h3v1h-3zM509 296h4v1h-4zM503 297h6v1h-6zM510 297h2v1h-2zM499 298h11v1h-11zM497 299h12v1h-12zM490 300h1v1h-1zM492 300h1v1h-1zM494 300h1v1h-1zM496 300h12v1h-12zM481 301h1v1h-1zM484 301h1v1h-1zM487 301h1v1h-1zM489 301h1v1h-1zM491 301h1v1h-1zM493 301h1v1h-1zM495 301h11v1h-11zM460 302h1v1h-1zM463 302h1v1h-1zM465 302h1v1h-1zM470 302h1v1h-1zM476 302h1v1h-1zM480 302h1v1h-1zM482 302h2v1h-2zM485 302h2v1h-2zM488 302h1v1h-1zM490 302h13v1h-13zM325 303h1v1h-1zM340 303h1v1h-1zM361 303h1v1h-1zM363 303h1v1h-1zM382 303h1v1h-1zM401 303h2v1h-2zM418 303h1v1h-1zM422 303h1v1h-1zM440 303h1v1h-1zM444 303h1v1h-1zM459 303h1v1h-1zM461 303h2v1h-2zM464 303h1v1h-1zM466 303h1v1h-1zM469 303h1v1h-1zM471 303h1v1h-1zM475 303h1v1h-1zM477 303h1v1h-1zM479 303h11v1h-11zM491 303h1v1h-1zM493 303h1v1h-1zM495 303h1v1h-1zM497 303h3v1h-3zM152 304h1v1h-1zM156 304h1v1h-1zM159 304h1v1h-1zM176 304h1v1h-1zM181 304h1v1h-1zM185 304h1v1h-1zM188 304h1v1h-1zM197 304h1v1h-1zM217 304h1v1h-1zM233 304h1v1h-1zM238 304h1v1h-1zM258 304h1v1h-1zM279 304h2v1h-2zM299 304h1v1h-1zM320 304h1v1h-1zM324 304h1v1h-1zM326 304h1v1h-1zM339 304h1v1h-1zM341 304h1v1h-1zM360 304h1v1h-1zM362 304h1v1h-1zM364 304h1v1h-1zM381 304h1v1h-1zM383 304h1v1h-1zM400 304h4v1h-4zM417 304h1v1h-1zM419 304h1v1h-1zM421 304h1v1h-1zM423 304h1v1h-1zM439 304h1v1h-1zM441 304h1v1h-1zM443 304h1v1h-1zM445 304h1v1h-1zM452 304h27v1h-27zM480 304h1v1h-1zM482 304h2v1h-2zM485 304h2v1h-2zM488 304h1v1h-1zM490 304h1v1h-1zM492 304h1v1h-1zM494 304h1v1h-1zM496 304h1v1h-1zM64 305h1v1h-1zM70 305h1v1h-1zM73 305h1v1h-1zM115 305h1v1h-1zM135 305h1v1h-1zM143 305h1v1h-1zM151 305h1v1h-1zM153 305h1v1h-1zM155 305h1v1h-1zM157 305h2v1h-2zM160 305h1v1h-1zM175 305h1v1h-1zM177 305h1v1h-1zM180 305h1v1h-1zM182 305h1v1h-1zM184 305h1v1h-1zM186 305h2v1h-2zM189 305h1v1h-1zM196 305h1v1h-1zM198 305h1v1h-1zM216 305h1v1h-1zM218 305h1v1h-1zM232 305h1v1h-1zM234 305h1v1h-1zM237 305h1v1h-1zM239 305h1v1h-1zM257 305h1v1h-1zM259 305h1v1h-1zM278 305h4v1h-4zM298 305h1v1h-1zM300 305h1v1h-1zM319 305h1v1h-1zM321 305h1v1h-1zM323 305h129v1h-129zM459 305h1v1h-1zM461 305h2v1h-2zM464 305h1v1h-1zM466 305h1v1h-1zM469 305h1v1h-1zM471 305h1v1h-1zM475 305h1v1h-1zM477 305h1v1h-1zM481 305h1v1h-1zM484 305h1v1h-1zM487 305h1v1h-1zM489 305h1v1h-1zM63 306h1v1h-1zM65 306h1v1h-1zM69 306h1v1h-1zM71 306h2v1h-2zM74 306h1v1h-1zM114 306h1v1h-1zM116 306h1v1h-1zM134 306h1v1h-1zM136 306h1v1h-1zM142 306h1v1h-1zM144 306h1v1h-1zM148 306h175v1h-175zM324 306h1v1h-1zM326 306h1v1h-1zM339 306h1v1h-1zM341 306h1v1h-1zM360 306h1v1h-1zM362 306h1v1h-1zM364 306h1v1h-1zM381 306h1v1h-1zM383 306h1v1h-1zM400 306h4v1h-4zM417 306h1v1h-1zM419 306h1v1h-1zM421 306h1v1h-1zM423 306h1v1h-1zM439 306h1v1h-1zM441 306h1v1h-1zM443 306h1v1h-1zM445 306h1v1h-1zM460 306h1v1h-1zM463 306h1v1h-1zM465 306h1v1h-1zM470 306h1v1h-1zM476 306h1v1h-1zM62 307h1v1h-1zM64 307h84v1h-84zM151 307h1v1h-1zM153 307h1v1h-1zM155 307h1v1h-1zM157 307h2v1h-2zM160 307h1v1h-1zM175 307h1v1h-1zM177 307h1v1h-1zM180 307h1v1h-1zM182 307h1v1h-1zM184 307h1v1h-1zM186 307h2v1h-2zM189 307h1v1h-1zM196 307h1v1h-1zM198 307h1v1h-1zM216 307h1v1h-1zM218 307h1v1h-1zM232 307h1v1h-1zM234 307h1v1h-1zM237 307h1v1h-1zM239 307h1v1h-1zM257 307h1v1h-1zM259 307h1v1h-1zM278 307h4v1h-4zM298 307h1v1h-1zM300 307h1v1h-1zM319 307h1v1h-1zM321 307h1v1h-1zM325 307h1v1h-1zM340 307h1v1h-1zM361 307h1v1h-1zM363 307h1v1h-1zM382 307h1v1h-1zM401 307h2v1h-2zM418 307h1v1h-1zM422 307h1v1h-1zM440 307h1v1h-1zM444 307h1v1h-1zM63 308h1v1h-1zM65 308h1v1h-1zM69 308h1v1h-1zM71 308h2v1h-2zM74 308h1v1h-1zM114 308h1v1h-1zM116 308h1v1h-1zM134 308h1v1h-1zM136 308h1v1h-1zM142 308h1v1h-1zM144 308h1v1h-1zM152 308h1v1h-1zM156 308h1v1h-1zM159 308h1v1h-1zM176 308h1v1h-1zM181 308h1v1h-1zM185 308h1v1h-1zM188 308h1v1h-1zM197 308h1v1h-1zM217 308h1v1h-1zM233 308h1v1h-1zM238 308h1v1h-1zM258 308h1v1h-1zM279 308h2v1h-2zM299 308h1v1h-1zM320 308h1v1h-1zM64 309h1v1h-1zM70 309h1v1h-1zM73 309h1v1h-1zM115 309h1v1h-1zM135 309h1v1h-1zM143 309h1v1h-1z"/><rect x="632" y="14" width="233" height="14" fill="#fff"/><path fill="#a0a0a0" d="M632 14h2v1h-2zM632 27h2v1h-2zM637 14h2v1h-2zM637 27h2v1h-2zM642 14h2v1h-2zM642 27h2v1h-2zM647 14h2v1h-2zM647 27h2v1h-2zM652 14h2v1h-2zM652 27h2v1h-2zM657 14h2v1h-2zM657 27h2v1h-2zM662 14h2v1h-2zM662 27h2v1h-2zM667 14h2v1h-2zM667 27h2v1h-2zM672 14h2v1h-2zM672 27h2v1h-2zM677 14h2v1h-2zM677 27h2v1h-2zM682 14h2v1h-2zM682 27h2v1h-2zM687 14h2v1h-2zM687 27h2v1h-2zM692 14h2v1h-2zM692 27h2v1h-2zM697 14h2v1h-2zM697 27h2v1h-2zM702 14h2v1h-2zM702 27h2v1h-2zM707 14h2v1h-2zM707 27h2v1h-2zM712 14h2v1h-2zM712 27h2v1h-2zM717 14h2v1h-2zM717 27h2v1h-2zM722 14h2v1h-2zM722 27h2v1h-2zM727 14h2v1h-2zM727 27h2v1h-2zM732 14h2v1h-2zM732 27h2v1h-2zM737 14h2v1h-2zM737 27h2v1h-2zM742 14h2v1h-2zM742 27h2v1h-2zM747 14h2v1h-2zM747 27h2v1h-2zM752 14h2v1h-2zM752 27h2v1h-2zM757 14h2v1h-2zM757 27h2v1h-2zM762 14h2v1h-2zM762 27h2v1h-2zM767 14h2v1h-2zM767 27h2v1h-2zM772 14h2v1h-2zM772 27h2v1h-2zM777 14h2v1h-2zM777 27h2v1h-2zM782 14h2v1h-2zM782 27h2v1h-2zM787 14h2v1h-2zM787 27h2v1h-2zM792 14h2v1h-2zM792 27h2v1h-2zM797 14h2v1h-2zM797 27h2v1h-2zM802 14h2v1h-2zM802 27h2v1h-2zM807 14h2v1h-2zM807 27h2v1h-2zM812 14h2v1h-2zM812 27h2v1h-2zM817 14h2v1h-2zM817 27h2v1h-2zM822 14h2v1h-2zM822 27h2v1h-2zM827 14h2v1h-2zM827 27h2v1h-2zM832 14h2v1h-2zM832 27h2v1h-2zM837 14h2v1h-2zM837 27h2v1h-2zM842 14h2v1h-2zM842 27h2v1h-2zM847 14h2v1h-2zM847 27h2v1h-2zM852 14h2v1h-2zM852 27h2v1h-2zM857 14h2v1h-2zM857 27h2v1h-2zM862 14h2v1h-2zM862 27h2v1h-2zM632 14h1v2h-1zM864 14h1v2h-1zM632 19h1v2h-1zM864 19h1v2h-1zM632 24h1v2h-1zM864 24h1v2h-1z"/><path fill="#0080ff" d="M830 20h29v1h-29zM844 18h1v1h-1zM843 19h1v1h-1zM845 19h1v1h-1zM842 20h1v1h-1zM846 20h1v1h-1zM843 21h1v1h-1zM845 21h1v1h-1zM844 22h1v1h-1z"/></svg>
<svg width="0" height="0" style="position:absolute"><filter id="crisp" color-interpolation-filters="sRGB"><feComponentTransfer><feFuncA type="linear" slope="1.35" intercept="-0.05"/></feComponentTransfer></filter></svg>
<div class="tx">
<div class="t" style="left:37px;top:288.0px"><span class="d">0</span></div><div class="t" style="left:37px;top:251.0px"><span class="d">2</span></div><div class="t" style="left:37px;top:213.0px"><span class="d">4</span></div><div class="t" style="left:37px;top:176.0px"><span class="d">6</span></div><div class="t" style="left:37px;top:138.0px"><span class="d">8</span></div><div class="t" style="left:31px;top:101.0px"><span class="d">10</span></div><div class="t" style="left:31px;top:63.0px"><span class="d">12</span></div><div class="t" style="left:31px;top:26.0px"><span class="d">14</span></div><div class="t" style="left:37px;top:320.0px"><span class="d">0000</span></div><div class="t" style="left:40px;top:333.0px">Thu</div><div class="t" style="left:34px;top:346.0px"><span class="d">21</span>/<span class="d">02</span></div><div class="t" style="left:119px;top:320.0px"><span class="d">1200</span></div><div class="t" style="left:122px;top:333.0px">Thu</div><div class="t" style="left:116px;top:346.0px"><span class="d">21</span>/<span class="d">02</span></div><div class="t" style="left:201px;top:320.0px"><span class="d">0000</span></div><div class="t" style="left:204px;top:333.0px">Fri</div><div class="t" style="left:198px;top:346.0px"><span class="d">22</span>/<span class="d">02</span></div><div class="t" style="left:283px;top:320.0px"><span class="d">1200</span></div><div class="t" style="left:286px;top:333.0px">Fri</div><div class="t" style="left:280px;top:346.0px"><span class="d">22</span>/<span class="d">02</span></div><div class="t" style="left:365px;top:320.0px"><span class="d">0000</span></div><div class="t" style="left:368px;top:333.0px">Sat</div><div class="t" style="left:362px;top:346.0px"><span class="d">23</span>/<span class="d">02</span></div><div class="t" style="left:448px;top:320.0px"><span class="d">1200</span></div><div class="t" style="left:451px;top:333.0px">Sat</div><div class="t" style="left:445px;top:346.0px"><span class="d">23</span>/<span class="d">02</span></div><div class="t" style="left:530px;top:320.0px"><span class="d">0000</span></div><div class="t" style="left:533px;top:333.0px">Sun</div><div class="t" style="left:527px;top:346.0px"><span class="d">24</span>/<span class="d">02</span></div><div class="t" style="left:612px;top:320.0px"><span class="d">1200</span></div><div class="t" style="left:615px;top:333.0px">Sun</div><div class="t" style="left:609px;top:346.0px"><span class="d">24</span>/<span class="d">02</span></div><div class="t" style="left:694px;top:320.0px"><span class="d">0000</span></div><div class="t" style="left:697px;top:333.0px">Mon</div><div class="t" style="left:691px;top:346.0px"><span class="d">25</span>/<span class="d">02</span></div><div class="t" style="left:776px;top:320.0px"><span class="d">1200</span></div><div class="t" style="left:779px;top:333.0px">Mon</div><div class="t" style="left:773px;top:346.0px"><span class="d">25</span>/<span class="d">02</span></div><div class="t" style="left:858px;top:320.0px"><span class="d">0000</span></div><div class="t" style="left:861px;top:333.0px">Tue</div><div class="t" style="left:855px;top:346.0px"><span class="d">26</span>/<span class="d">02</span></div><div class="t" style="left:64px;top:59.0px">Major</div><div class="t" style="left:64px;top:116.0px">Moderate</div><div class="t" style="left:64px;top:191.0px">Minor</div><div class="t" style="left:632px;top:17.0px">Nepean R at Menangle Br (<span class="d">068216</span>)</div><div class="t" style="left:407px;top:365.0px">Station Date/Time</div><div class="t" style="left:126px;top:391.0px">Australian Government Bureau of Meteorology</div><div class="t" style="left:600px;top:391.0px">(Generated: <span class="d">25</span>/<span class="d">02</span>/<span class="d">2013</span> <span class="d">12</span>:<span class="d">16</span>:<span class="d">32</span>)</div>
<div class="t" style="left:9.0px;top:210px;transform:rotate(-90deg) scaleX(1.0000)">Water Level (m)</div>
</div>
</body></html>
